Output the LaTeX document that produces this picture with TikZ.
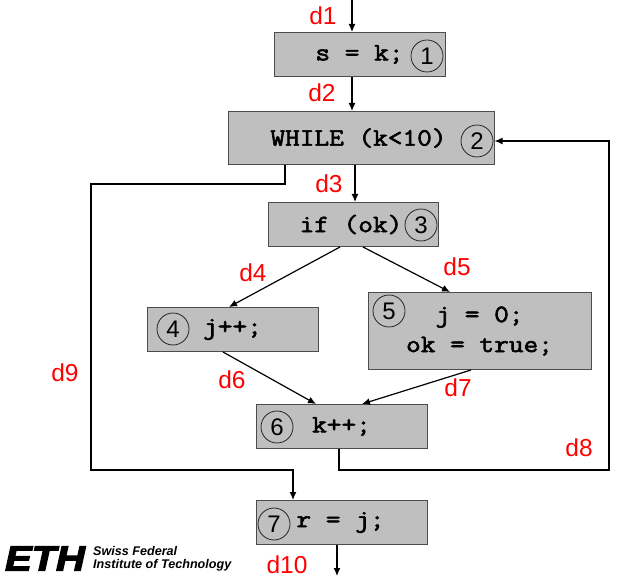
\documentclass[tikz,border=0pt]{standalone}
\usepackage{fontspec}
\usetikzlibrary{arrows.meta}
\setmainfont{Liberation Sans}
\newfontfamily\ethfont[BoldItalicFeatures={FakeBold=3.5}]{Liberation Sans}
\newfontfamily\codefont[FakeBold=2.2]{Latin Modern Mono}
\newcommand{\code}[1]{\scalebox{1.14}[1]{#1}}
\tikzset{
	stmtbox/.style={draw=black!70, fill=black!25, line width=1pt, inner sep=0pt, align=center, font=\codefont\fontsize{25}{30}\selectfont},
	numring/.style={draw=black!85, circle, line width=0.8pt, inner sep=0pt, minimum size=32pt, font=\fontsize{24}{24}\selectfont},
	deflabel/.style={text=red, inner sep=0pt, font=\fontsize{24.5}{24.5}\selectfont},
	flow/.style={line width=1.2pt, -{Latex[length=8pt,width=7pt]}}
}
\begin{document}
\begin{tikzpicture}[x=1pt, y=-1pt]
	\useasboundingbox (0, 0) rectangle (635, 585);
	%%%%% STATEMENTS %%%%%
	\node[stmtbox, minimum width=171pt, minimum height=44pt] (s1) at (359.5, 54.5) {\code{s = k;}};
	\node[stmtbox, minimum width=266pt, minimum height=53pt] (s2) at (361, 138) {\hspace*{-5pt}\code{WHILE (k<10)}};
	\node[stmtbox, minimum width=170pt, minimum height=44pt] (s3) at (353, 224.5) {\hspace*{-4pt}\code{if (ok)}};
	\node[stmtbox, minimum width=171pt, minimum height=44pt] (s4) at (232.5, 329.5) {\code{j++;}};
	\node[stmtbox, minimum width=223pt, minimum height=77pt] (s5) at (479.5, 331) {\code{j = 0;}\\\code{ok = true;}};
	\node[stmtbox, minimum width=171pt, minimum height=44pt] (s6) at (341.5, 426.5) {\code{k++;}};
	\node[stmtbox, minimum width=171pt, minimum height=44pt] (s7) at (341.5, 522.5) {\hspace*{-2pt}\code{r = j;}};
	
	\node[numring] (n1) at (427, 56) {1};
	\node[numring] (n2) at (477, 141) {2};
	\node[numring] (n3) at (421, 225) {3};
	\node[numring] (n4) at (173, 329) {4};
	\node[numring] (n5) at (389, 311) {5};
	\node[numring] (n6) at (277, 427) {6};
	\node[numring] (n7) at (274, 524) {7};
	
	%%%%% FLOW %%%%%
	\coordinate (entry) at (352, 0);
	\coordinate (leave) at (337, 576);
	\coordinate (left) at (91, 184);
	\coordinate (right) at (609, 470);
	
	\draw[flow] (entry) -- (entry |- s1.north);
	\draw[flow] (entry |- s1.south) -- (entry |- s2.north);
	\draw[flow] ([xshift=-6pt]s2.south) -- ([xshift=2pt]s3.north);
	\draw[flow] ([xshift=-13pt]s3.south) -- ([xshift=-3.5pt]s4.north);
	\draw[flow] ([xshift=10pt]s3.south) -- ([xshift=-29.5pt]s5.north);
	\draw[flow] ([xshift=-9.5pt]s4.south) -- ([xshift=-25.5pt]s6.north);
	\draw[flow] ([xshift=-8.5pt]s5.south) -- ([xshift=20.5pt]s6.north);
	\draw[flow] (leave |- s7.south) -- (leave);
	\draw[flow] ([xshift=-76pt]s2.south) |- (left) |- ([xshift=-48.5pt]s7.north |- right) -- ([xshift=-48.5pt]s7.north);
	\draw[flow] ([xshift=-2.5pt]s6.south) |- (right) |- (s2.east |- n2);
	
	%%%%% LABELS %%%%%
	\node[deflabel] (d1) at (323, 16) {d1};
	\node[deflabel] (d2) at (322, 93) {d2};
	\node[deflabel] (d3) at (329, 184) {d3};
	\node[deflabel] (d4) at (253, 273) {d4};
	\node[deflabel] (d5) at (457, 267) {d5};
	\node[deflabel] (d6) at (232, 380) {d6};
	\node[deflabel] (d7) at (458, 388) {d7};
	\node[deflabel] (d8) at (579, 448) {d8};
	\node[deflabel] (d9) at (65, 373) {d9};
	\node[deflabel] (d10) at (287, 565) {d10};
	
	%%%%% LOGO %%%%%
	\node[inner sep=0pt, xscale=1.14, font=\ethfont\bfseries\itshape\fontsize{35}{35}\selectfont] (eth) at (45, 558.5) {ETH};
	\node[inner sep=0pt, align=left, anchor=west, font=\bfseries\itshape\fontsize{12.6}{13}\selectfont] (swiss) at (93, 558.5) {Swiss Federal\\Institute of Technology};
\end{tikzpicture}
\end{document}
